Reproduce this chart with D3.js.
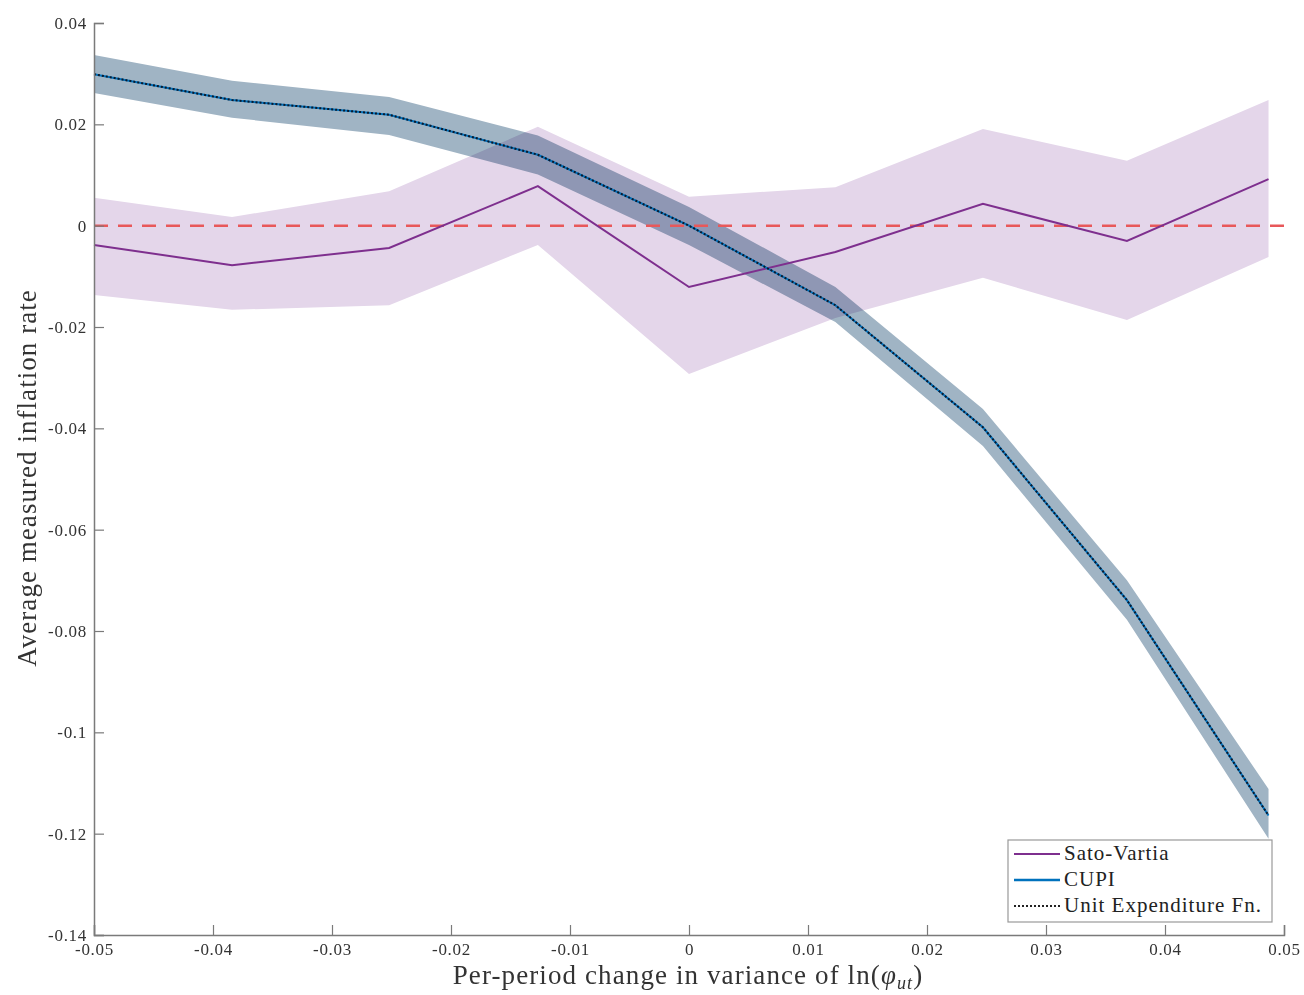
<!DOCTYPE html>
<html>
<head>
<meta charset="utf-8">
<script src="https://cdn.jsdelivr.net/npm/d3@7"></script>
<style>
  body { margin: 0; background: #fff; }
  text { font-family: "Liberation Serif", "DejaVu Serif", serif; }
</style>
</head>
<body>
<svg id="chart" width="1304" height="995"></svg>
<script>
// x positions (per-period change in variance)
var xs = [-0.05, -0.0384, -0.0252, -0.0127, 0, 0.0123, 0.0247, 0.0368, 0.0487];

// Sato-Vartia mean and band
var satoMean  = [-0.0038, -0.0078, -0.0044, 0.0078, -0.0121, -0.0052, 0.0043, -0.0030, 0.0092];
var satoUpper = [0.0055, 0.0017, 0.0068, 0.0195, 0.0057, 0.0076, 0.0191, 0.0128, 0.0248];
var satoLower = [-0.0137, -0.0166, -0.0157, -0.0038, -0.0293, -0.0182, -0.0103, -0.0186, -0.0062];

// CUPI mean and band
var cupiMean  = [0.0299, 0.0248, 0.0219, 0.0140, 0.0000, -0.0157, -0.0398, -0.0739, -0.1164];
var cupiUpper = [0.0337, 0.0286, 0.0254, 0.0178, 0.0037, -0.0121, -0.0362, -0.0700, -0.1112];
var cupiLower = [0.0262, 0.0213, 0.0179, 0.0101, -0.0038, -0.0190, -0.0435, -0.0778, -0.1210];

var xTicks = [-0.05, -0.04, -0.03, -0.02, -0.01, 0, 0.01, 0.02, 0.03, 0.04, 0.05];
var yTicks = [-0.14, -0.12, -0.1, -0.08, -0.06, -0.04, -0.02, 0, 0.02, 0.04];
var legendNames = ["Sato-Vartia", "CUPI", "Unit Expenditure Fn."];

var svg = d3.select("#chart");
var x = d3.scaleLinear().domain([-0.05, 0.05]).range([94, 1284]);
var y = d3.scaleLinear().domain([-0.14, 0.04]).range([935, 23]);

function fmt(d){
  if (d === 0) return "0";
  return String(+d.toFixed(2));
}

var idx = d3.range(xs.length);

var band = function(up, lo){
  return d3.area().x(function(i){ return x(xs[i]); })
    .y0(function(i){ return y(lo[i]); })
    .y1(function(i){ return y(up[i]); });
};
var line = function(v){
  return d3.line().x(function(i){ return x(xs[i]); }).y(function(i){ return y(v[i]); });
};

// bands
svg.append("path").datum(idx).attr("d", band(satoUpper, satoLower))
  .attr("fill", "#e4d6ea");
svg.append("path").datum(idx).attr("d", band(cupiUpper, cupiLower))
  .attr("fill", "#a0b4c4").style("mix-blend-mode", "multiply");

// zero line
svg.append("line")
  .attr("x1", x(-0.05)).attr("x2", x(0.05))
  .attr("y1", y(0)).attr("y2", y(0))
  .attr("stroke", "#e8585a").attr("stroke-width", 2.5)
  .attr("stroke-dasharray", "14,10");

// series lines
svg.append("path").datum(idx).attr("d", line(satoMean))
  .attr("fill", "none").attr("stroke", "#7e2f8e").attr("stroke-width", 2);
svg.append("path").datum(idx).attr("d", line(cupiMean))
  .attr("fill", "none").attr("stroke", "#0072bd").attr("stroke-width", 2);
svg.append("path").datum(idx).attr("d", line(cupiMean))
  .attr("fill", "none").attr("stroke", "#0a1a2e").attr("stroke-width", 2)
  .attr("stroke-dasharray", "2,2");

// axes
var axisColor = "#7a7a7a";
var gx = svg.append("g").attr("transform", "translate(0," + y(-0.14) + ")")
  .call(d3.axisBottom(x).tickValues(xTicks).tickSize(-10).tickPadding(6).tickFormat(fmt));
var gy = svg.append("g").attr("transform", "translate(" + x(-0.05) + ",0)")
  .call(d3.axisLeft(y).tickValues(yTicks).tickSize(-10).tickPadding(7).tickFormat(fmt));
[gx, gy].forEach(function(g){
  g.select(".domain").attr("stroke", axisColor).attr("stroke-width", 1.5);
  g.selectAll(".tick line").attr("stroke", axisColor).attr("stroke-width", 1.2);
  g.selectAll(".tick text").attr("fill", "#333").style("font-size", "17px")
    .style("letter-spacing", "0.7px")
    .style("font-family", "'Liberation Serif', serif");
});
gx.selectAll(".tick text").attr("dy", "0.85em");

// axis labels
svg.append("text")
  .attr("x", 688).attr("y", 984)
  .attr("text-anchor", "middle").attr("fill", "#333")
  .style("font-size", "27px").style("letter-spacing", "1.1px")
  .html('Per-period change in variance of ln(<tspan font-style="italic">φ</tspan><tspan font-style="italic" font-size="18px" dy="5">ut</tspan><tspan dy="-5">)</tspan>');

svg.append("text")
  .attr("transform", "translate(36,478) rotate(-90)")
  .attr("text-anchor", "middle").attr("fill", "#333")
  .style("font-size", "27px").style("letter-spacing", "1.05px")
  .text("Average measured inflation rate");

// legend
var lg = svg.append("g").attr("transform", "translate(1008,840)");
lg.append("rect").attr("width", 264).attr("height", 82)
  .attr("fill", "#fff").attr("stroke", "#999").attr("stroke-width", 1.2);
var styles = [
  {stroke: "#7e2f8e", dash: null, w: 2},
  {stroke: "#0072bd", dash: null, w: 2.5},
  {stroke: "#222", dash: "2,2", w: 2}
];
legendNames.forEach(function(name, i){
  var yy = 14 + i * 26;
  lg.append("line").attr("x1", 6).attr("x2", 52).attr("y1", yy).attr("y2", yy)
    .attr("stroke", styles[i].stroke).attr("stroke-width", styles[i].w)
    .attr("stroke-dasharray", styles[i].dash);
  lg.append("text").attr("x", 56).attr("y", yy + 6).attr("fill", "#222")
    .style("font-size", "21px").style("letter-spacing", "1px").text(name);
});
</script>
</body>
</html>
